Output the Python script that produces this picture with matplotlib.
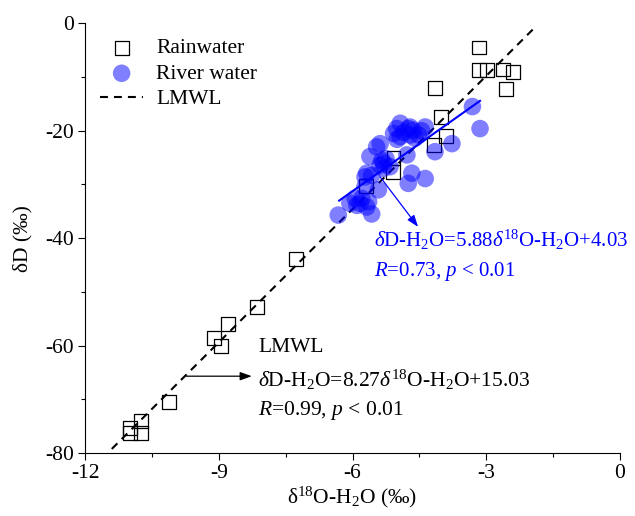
import numpy as np
import matplotlib
matplotlib.use("Agg")
import matplotlib.pyplot as plt

plt.rcParams['font.family'] = ['Liberation Serif', 'DejaVu Serif']
plt.rcParams['mathtext.fontset'] = 'custom'
plt.rcParams['mathtext.rm'] = 'Liberation Serif'
plt.rcParams['mathtext.it'] = 'Liberation Serif:italic'
plt.rcParams['mathtext.bf'] = 'Liberation Serif:bold'
plt.rcParams['axes.unicode_minus'] = False

# Rainwater samples (d18O, dD)
rain_d18O = [-3.16, -3.16, -2.99, -2.63, -2.41, -2.56, -4.14, -4.01, -3.91, -4.17,
             -5.08, -5.10, -5.70, -7.27, -8.15, -8.80, -9.10, -8.95, -10.12,
             -10.74, -10.99, -10.99, -10.74]
rain_dD = [-4.5, -8.7, -8.7, -8.6, -9.0, -12.2, -12.1, -17.5, -20.9, -22.7,
           -25.0, -27.6, -30.3, -43.9, -52.8, -55.9, -58.6, -60.0, -70.5,
           -74.1, -75.4, -76.3, -76.3]

# River water samples (d18O, dD)
river_d18O = [-3.31, -3.14, -4.37, -4.71, -5.01, -4.93, -4.71, -4.52, -4.64, -5.08,
              -5.38, -5.46, -5.61, -5.34, -4.78, -4.15, -3.77, -5.31, -5.16, -5.68,
              -5.57, -4.67, -4.37, -4.75, -5.72, -5.42, -5.94, -5.83, -5.64, -6.06,
              -6.32, -5.57, -4.93, -4.75, -5.79, -5.68, -5.38, -5.72, -4.85, -4.60,
              -5.00, -5.30, -5.90, -4.45, -5.25]
river_dD = [-15.5, -19.6, -19.3, -19.3, -19.6, -21.1, -20.8, -20.8, -19.9, -20.5,
            -22.4, -23.0, -24.8, -25.5, -24.5, -23.9, -22.4, -27.0, -26.7, -27.9,
            -28.3, -27.9, -28.9, -29.8, -30.4, -31.0, -32.6, -33.5, -33.2, -33.5,
            -35.7, -35.5, -18.6, -19.6, -32.6, -34.2, -26.4, -28.6, -20.3, -21.4,
            -21.6, -26.0, -33.9, -20.0, -25.2]

# Regression lines: slope, intercept, x-range
lmwl_slope, lmwl_int = 8.27, 15.03
lmwl_x = [-11.4, -1.9]
river_slope, river_int = 5.88, 4.03
river_x = [-6.3, -3.14]

FS = 15.5
FS_BLUE = 15.0

fig = plt.figure(figsize=(6.35, 5.16), dpi=100)
ax = fig.add_axes([0.1339, 0.1221, 0.8425, 0.8327])

xl = np.array(lmwl_x)
ax.plot(xl, lmwl_slope * xl + lmwl_int, color='black', lw=1.5,
        linestyle=(0, (3.8, 2.9)), label='LMWL', zorder=2)

ax.scatter(rain_d18O, rain_dD, marker='s', s=100, facecolors='none',
           edgecolors='black', linewidths=0.9, label='Rainwater', zorder=3)
ax.scatter(river_d18O, river_dD, marker='o', s=160, color='#0000FF',
           alpha=0.5, edgecolors='none', label='River water', zorder=4)

xr = np.array(river_x)
ax.plot(xr, river_slope * xr + river_int, color='#0000FF', lw=1.5, zorder=5)

# Annotations
ax.annotate('', xy=(-4.53, -37.9), xytext=(-5.38, -28.6),
            arrowprops=dict(arrowstyle='-|>,head_length=0.5,head_width=0.18',
                            color='#0000FF', lw=0.9,
                            mutation_scale=14, shrinkA=0, shrinkB=0), zorder=6)
ax.text(-5.51, -40.3, r'$\mathit{\delta}$D-H$_2$O=5.88$\mathit{\delta}^{18}$O-H$_2$O+4.03',
        color='#0000FF', fontsize=FS_BLUE, va='center', ha='left')
ax.text(-5.51, -46.3, r'$\mathit{R}$=0.73, $\mathit{p}$ < 0.01',
        color='#0000FF', fontsize=FS_BLUE, va='center', ha='left')

ax.annotate('', xy=(-8.26, -65.7), xytext=(-9.73, -65.7),
            arrowprops=dict(arrowstyle='-|>,head_length=0.5,head_width=0.18',
                            color='black', lw=0.9,
                            mutation_scale=14, shrinkA=0, shrinkB=0))
ax.text(-8.12, -60.4, 'LMWL', fontsize=FS, va='center', ha='left')
ax.text(-8.12, -66.4, r'$\mathit{\delta}$D-H$_2$O=8.27$\mathit{\delta}^{18}$O-H$_2$O+15.03',
        fontsize=FS, va='center', ha='left')
ax.text(-8.12, -72.0, r'$\mathit{R}$=0.99, $\mathit{p}$ < 0.01',
        fontsize=FS, va='center', ha='left')

ax.set_xlim(-12, 0)
ax.set_ylim(-80, 0)
ax.set_xticks([-12, -9, -6, -3, 0])
ax.set_xticks([-10.5, -7.5, -4.5, -1.5], minor=True)
ax.set_yticks([-80, -60, -40, -20, 0])
ax.set_yticks([-70, -50, -30, -10], minor=True)
ax.tick_params(which='both', direction='out', width=0.8, labelsize=FS)
ax.tick_params(which='major', length=5, pad=3)
ax.tick_params(which='minor', length=3)
for s in ['top', 'right']:
    ax.spines[s].set_visible(False)
for s in ['left', 'bottom']:
    ax.spines[s].set_linewidth(0.8)

ax.set_xlabel('δ$^{18}$O-H$_2$O (‰)', fontsize=FS, labelpad=1)
ax.set_ylabel('δD (‰)', fontsize=FS, labelpad=9)

handles, labels = ax.get_legend_handles_labels()
order = [labels.index('Rainwater'), labels.index('River water'), labels.index('LMWL')]
ax.legend([handles[i] for i in order], [labels[i] for i in order],
          loc='upper left', bbox_to_anchor=(0.0, 1.0), frameon=False,
          fontsize=FS, handlelength=2.0, handletextpad=0.6, labelspacing=0.25,
          borderaxespad=0.3)

fig.savefig('out.png', dpi=100)
